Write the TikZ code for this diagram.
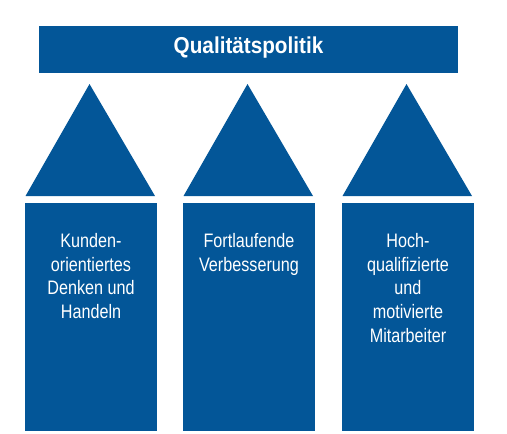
\documentclass[tikz,border=0pt]{standalone}
\usepackage{fontspec}
\setmainfont{Liberation Sans}[FakeStretch=0.83]
\newfontfamily\titlefont{Liberation Sans}[FakeStretch=0.9]
\definecolor{qblue}{RGB}{3,86,152}
\begin{document}
\begin{tikzpicture}[x=1pt,y=-1pt,
  blk/.style={fill=qblue,draw=none},
  lbl/.style={text=white,align=center,inner sep=0pt,anchor=north,font=\fontsize{19.5}{23.8}\selectfont}]
\useasboundingbox (0,0) rectangle (507,434);
% top bar
\fill[blk] (39,26) rectangle (458,73);
\node[text=white,font=\titlefont\fontsize{23}{26}\selectfont\bfseries] (title) at (248.5,47.5) {Qualitätspolitik};
% triangles
\fill[blk] (89.5,84) -- (155,196) -- (25.5,196) -- cycle;
\fill[blk] (247.5,84) -- (313,196) -- (183.5,196) -- cycle;
\fill[blk] (406.5,84) -- (472,196) -- (342.5,196) -- cycle;
% pillars
\fill[blk] (25,203) rectangle (157,431);
\fill[blk] (183,203) rectangle (315,431);
\fill[blk] (342,203) rectangle (474,431);
\node[lbl] (t1) at (91,233) {Kunden-\\orientiertes\\Denken und\\Handeln};
\node[lbl] (t2) at (249,233) {Fortlaufende\\Verbesserung};
\node[lbl] (t3) at (408,233) {Hoch-\\qualifizierte\\und\\motivierte\\Mitarbeiter};
\end{tikzpicture}
\end{document}
